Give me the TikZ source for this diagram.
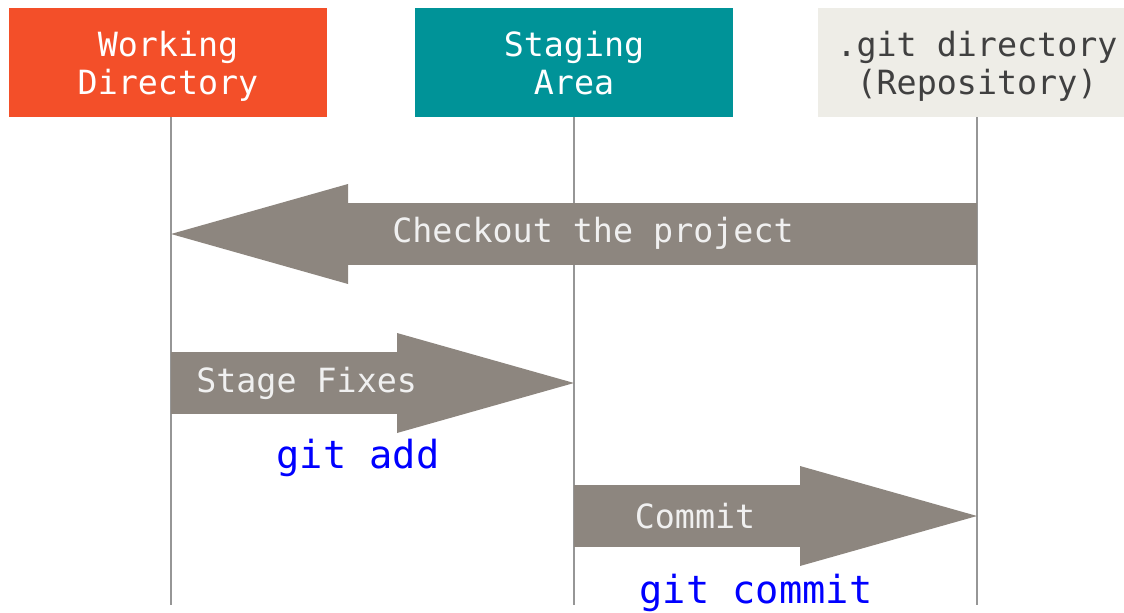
\documentclass[tikz,border=0pt]{standalone}
\usepackage{fontspec}
\setmonofont{DejaVu Sans Mono}
\usetikzlibrary{arrows.meta, positioning}

\definecolor{wdred}{RGB}{243,79,41}
\definecolor{stageteal}{RGB}{0,147,152}
\definecolor{repogray}{RGB}{238,237,231}
\definecolor{arrowgray}{RGB}{141,134,127}
\definecolor{linegray}{RGB}{150,150,150}

\begin{document}
\begin{tikzpicture}[x=0.75pt, y=-0.75pt]
    \useasboundingbox (0,0) rectangle (1124,613);

        \tikzstyle{area} = [rectangle, minimum width=238.5pt, minimum height=81.75pt, text centered, align=center, inner sep=0pt, font=\ttfamily\fontsize{25}{28.5}\selectfont]
        \tikzstyle{lifeline} = [draw=linegray, line width=1.7pt]
        \tikzstyle{bigarrow} = [draw=arrowgray, line width=46.5pt, -{Triangle[length=132.75pt, width=75pt, line width=0pt]}]
        \tikzstyle{arrowtext} = [text=white!94!black, font=\ttfamily\fontsize{25}{28}\selectfont]
        \tikzstyle{cmd} = [text=blue, font=\ttfamily\fontsize{29}{32}\selectfont]

        \node (wd) [area, fill=wdred, text=white] at (168,62.5) {\rule{0pt}{28pt}Working\\Directory\strut};
        \node (stage) [area, fill=stageteal, text=white] at (574,62.5) {\rule{0pt}{28pt}Staging\\Area\strut};
        \node (repo) [area, fill=repogray, text=black!75] at (977,62.5) {\rule{0pt}{28pt}.git directory\\(Repository)\strut};

        % lifelines
        \coordinate (wd-end) at (171,605);
        \coordinate (stage-end) at (574,605);
        \coordinate (repo-end) at (977,605);
        \draw [lifeline] (wd-end |- wd.south) -- (wd-end);
        \draw [lifeline] (stage.south) -- (stage-end);
        \draw [lifeline] (repo.south) -- (repo-end);

        % ends of the arrows on the lifelines
        \coordinate (wd-co) at (wd-end |- 0,234);
        \coordinate (repo-co) at (repo-end |- 0,234);
        \coordinate (wd-add) at (wd-end |- 0,383);
        \coordinate (stage-add) at (stage-end |- 0,383);
        \coordinate (stage-ci) at (stage-end |- 0,516);
        \coordinate (repo-ci) at (repo-end |- 0,516);

        \draw [bigarrow] (repo-co) -- (wd-co);
        \draw [bigarrow] (wd-add) -- (stage-add);
        \draw [bigarrow] (stage-ci) -- (repo-ci);

        \node (checkout) [arrowtext] at (593,233) {Checkout the project};
        \node (fixes) [arrowtext, anchor=west, inner sep=0pt] at (196,383) {Stage Fixes};
        \node (commit) [arrowtext] at (695,516) {Commit};

        \node (add) [cmd] at (358,458) {git add};
        \node (gitcommit) [cmd] at (756,593) {git commit};
\end{tikzpicture}
\end{document}
